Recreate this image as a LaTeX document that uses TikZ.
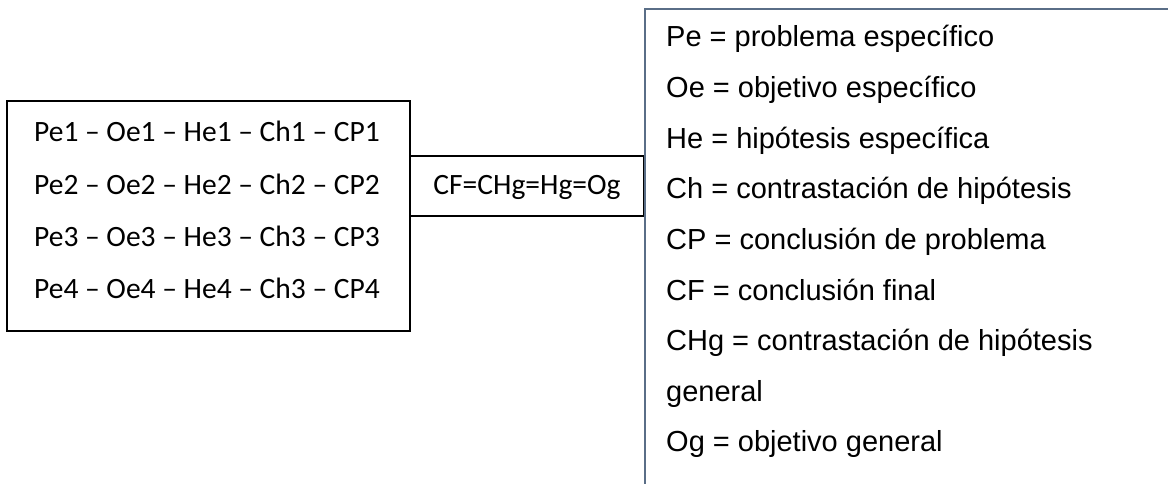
\documentclass[tikz,border=0pt]{standalone}
\usepackage{fontspec}
\setmainfont{Liberation Sans}
\newfontfamily\calfont{Carlito}
\definecolor{legendline}{HTML}{5A6E87}
\begin{document}
\begin{tikzpicture}[x=1pt,y=-1pt,
  boxline/.style={draw=black,line width=2pt},
  rowtext/.style={anchor=base,inner sep=0pt,font=\calfont\fontsize{29.5}{34}\selectfont},
  legtext/.style={anchor=base west,inner sep=0pt,font=\fontsize{29}{34}\selectfont}]
\useasboundingbox (0,0) rectangle (1168,484);
% chain of specific problems
\draw[boxline] (7,101) rectangle (410,331);
\node[rowtext] (r1) at (207,142) {Pe1 – Oe1 – He1 – Ch1 – CP1};
\node[rowtext] (r2) at (207,194) {Pe2 – Oe2 – He2 – Ch2 – CP2};
\node[rowtext] (r3) at (207,246) {Pe3 – Oe3 – He3 – Ch3 – CP3};
\node[rowtext] (r4) at (207,298) {Pe4 – Oe4 – He4 – Ch3 – CP4};
% final conclusion
\draw[boxline] (410,156) rectangle (644,216);
\node[rowtext] (cf) at (527,195) {CF=CHg=Hg=Og};
% legend
\draw[legendline,line width=1.6pt] (645,484) -- (645,9) -- (1168,9);
\node[legtext] (l1) at (666,47) {Pe = problema específico};
\node[legtext] (l2) at (666,97.6) {Oe = objetivo específico};
\node[legtext] (l3) at (666,148.2) {He = hipótesis específica};
\node[legtext] (l4) at (666,198.8) {Ch = contrastación de hipótesis};
\node[legtext] (l5) at (666,249.4) {CP = conclusión de problema};
\node[legtext] (l6) at (666,300) {CF = conclusión final};
\node[legtext] (l7) at (666,350.6) {CHg = contrastación de hipótesis};
\node[legtext] (l8) at (666,401.2) {general};
\node[legtext] (l9) at (666,451.8) {Og = objetivo general};
\end{tikzpicture}
\end{document}
